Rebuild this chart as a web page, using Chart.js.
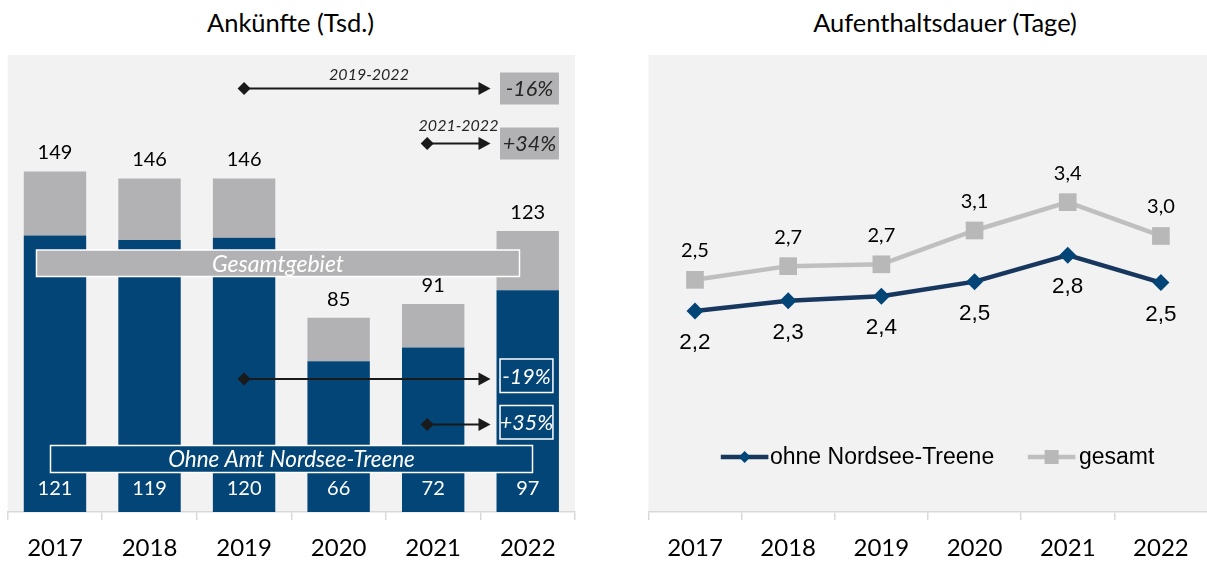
<!DOCTYPE html>
<html><head><meta charset="utf-8">
<script src="https://cdn.jsdelivr.net/npm/chart.js@4/dist/chart.umd.min.js"></script>
<style>
html,body{margin:0;padding:0;background:#fff;overflow:hidden;width:1207px;height:563px;}
#c1{position:absolute;left:0;top:0;}
#c2{position:absolute;left:600px;top:0;}
.title{position:absolute;top:7px;line-height:30px;font-family:Lato,sans-serif;font-size:25.5px;color:#000;transform:translateX(-50%);white-space:nowrap;}
</style></head><body>
<div class="title" style="left:290.5px">Ankünfte (Tsd.)</div>
<div class="title" style="left:945px">Aufenthaltsdauer (Tage)</div>
<canvas id="c1" width="600" height="563"></canvas>
<canvas id="c2" width="620" height="563"></canvas>
<script>
// ---- data ----
const years = ['2017','2018','2019','2020','2021','2022'];
const ankuenfteGesamt = [149,146,146,85,91,123];
const ankuenfteOhne = [121,119,120,66,72,97];
const dauerOhne = [2.20,2.31,2.36,2.52,2.81,2.51];
const dauerGesamt = [2.54,2.69,2.71,3.08,3.39,3.02];
const periodLabels = ['2019-2022','2021-2022'];
const changeGesamt = ['-16%','+34%'];
const changeOhne = ['-19%','+35%'];
const boxLabels = ['Gesamtgebiet','Ohne Amt Nordsee-Treene'];
const seriesNames = ['ohne Nordsee-Treene','gesamt'];

const BLUE = '#034577', GREY = '#B2B2B4', BG = '#F2F2F2', AXIS = '#D9D9D9';
const fmt = v => v.toFixed(1).replace('.', ',');

const bgPlugin = {
  id: 'bg',
  beforeDraw(chart) {
    const {ctx, chartArea: a} = chart;
    ctx.save(); ctx.fillStyle = BG;
    ctx.fillRect(a.left, a.top, a.right - a.left, a.bottom - a.top);
    ctx.restore();
  }
};

function xAxis() {
  return {
    offset: true,
    grid: {offset: true, drawOnChartArea: false, drawTicks: true, tickLength: 8, color: AXIS, lineWidth: 1.5},
    border: {display: true, color: AXIS, width: 1.5},
    ticks: {font: {family: 'Lato', size: 24}, color: '#000', padding: 13.5, maxRotation: 0},
    afterFit(s) { s.height = 51; }
  };
}

function diamondArrow(ctx, x1, x2, y) {
  ctx.save();
  ctx.strokeStyle = '#1a1a1a'; ctx.fillStyle = '#1a1a1a'; ctx.lineWidth = 1.8;
  ctx.beginPath(); ctx.moveTo(x1, y); ctx.lineTo(x2 - 8, y); ctx.stroke();
  ctx.beginPath(); ctx.moveTo(x1 - 6.5, y); ctx.lineTo(x1, y - 6.5); ctx.lineTo(x1 + 6.5, y); ctx.lineTo(x1, y + 6.5); ctx.closePath(); ctx.fill();
  ctx.beginPath(); ctx.moveTo(x2, y); ctx.lineTo(x2 - 12, y - 6.5); ctx.lineTo(x2 - 12, y + 6.5); ctx.closePath(); ctx.fill();
  ctx.restore();
}
function box(ctx, x1, y1, x2, y2, fill, stroke, text, color, size) {
  ctx.save();
  if (fill) { ctx.fillStyle = fill; ctx.fillRect(x1, y1, x2 - x1, y2 - y1); }
  if (stroke) { ctx.strokeStyle = stroke; ctx.lineWidth = 1.5; ctx.strokeRect(x1, y1, x2 - x1, y2 - y1); }
  ctx.fillStyle = color; ctx.font = 'italic ' + size + 'px Lato';
  ctx.textAlign = 'center'; ctx.textBaseline = 'middle';
  ctx.fillText(text, (x1 + x2) / 2, (y1 + y2) / 2 + 1);
  ctx.restore();
}

const barLabels = {
  id: 'barLabels',
  afterDatasetsDraw(chart) {
    const ctx = chart.ctx;
    const xs = chart.scales.x;
    const m0 = chart.getDatasetMeta(0), m1 = chart.getDatasetMeta(1);
    const last = m1.data[5];
    const bl = last.x - last.width / 2, br = last.x + last.width / 2;
    const tip = bl - 6;
    // annotations
    ctx.save();
    ctx.fillStyle = '#262626'; ctx.font = 'italic 16px Lato'; ctx.textAlign = 'center'; ctx.textBaseline = 'middle';
    ctx.fillText(periodLabels[0], 369, 74.5);
    ctx.fillText(periodLabels[1], 458.5, 126);
    ctx.restore();
    diamondArrow(ctx, xs.getPixelForValue(2), tip, 88.5);
    diamondArrow(ctx, xs.getPixelForValue(4) - 6, tip, 143.5);
    diamondArrow(ctx, xs.getPixelForValue(2), tip, 379);
    diamondArrow(ctx, xs.getPixelForValue(4) - 6, tip, 424.5);
    box(ctx, bl + 3.5, 72.5, br, 104.5, GREY, null, changeGesamt[0], '#262626', 21.5);
    box(ctx, bl + 3.5, 127.5, br, 159.5, GREY, null, changeGesamt[1], '#262626', 21.5);
    box(ctx, bl + 3.5, 359, br - 6, 392.5, null, '#fff', changeOhne[0], '#fff', 21.5);
    box(ctx, bl + 3.5, 405.5, br - 6, 439, null, '#fff', changeOhne[1], '#fff', 21.5);
    box(ctx, 36.5, 250, 519.5, 276.5, GREY, '#fff', boxLabels[0], '#fff', 23);
    box(ctx, 50.5, 445.5, 532.5, 472.5, BLUE, '#fff', boxLabels[1], '#fff', 22.5);
    // values
    ctx.save();
    ctx.font = '20px Lato'; ctx.textAlign = 'center'; ctx.textBaseline = 'middle';
    m1.data.forEach((el, i) => { ctx.fillStyle = '#000'; ctx.fillText(String(ankuenfteGesamt[i]), el.x, el.y - 18.5); });
    m0.data.forEach((el, i) => { ctx.fillStyle = '#fff'; ctx.fillText(String(ankuenfteOhne[i]), el.x, el.base - 23); });
    ctx.restore();
  }
};

new Chart(document.getElementById('c1'), {
  type: 'bar',
  data: {
    labels: years,
    datasets: [
      {data: ankuenfteOhne, backgroundColor: BLUE, borderWidth: 0},
      {data: ankuenfteGesamt.map((v, i) => v - ankuenfteOhne[i]), backgroundColor: GREY, borderWidth: 0}
    ]
  },
  options: {
    responsive: false, animation: false,
    layout: {padding: {left: 7.7, right: 25, top: 55, bottom: 0}},
    datasets: {bar: {barPercentage: 0.66, categoryPercentage: 1}},
    plugins: {legend: {display: false}, tooltip: {enabled: false}},
    scales: {
      x: Object.assign(xAxis(), {stacked: true}),
      y: {stacked: true, display: false, min: 0, max: 200}
    }
  },
  plugins: [bgPlugin, barLabels]
});

const lineLabels = {
  id: 'lineLabels',
  afterDatasetsDraw(chart) {
    const ctx = chart.ctx;
    ctx.save(); ctx.textAlign = 'center'; ctx.textBaseline = 'middle'; ctx.fillStyle = '#000';
    ctx.font = '20px Lato';
    chart.getDatasetMeta(1).data.forEach((el, i) => ctx.fillText(fmt(dauerGesamt[i]), el.x, el.y - 29));
    ctx.font = '22.5px "Liberation Sans"';
    chart.getDatasetMeta(0).data.forEach((el, i) => ctx.fillText(fmt(dauerOhne[i]), el.x, el.y + 32));
    // legend
    const y = 457;
    ctx.lineWidth = 4.5;
    ctx.strokeStyle = '#17375E';
    ctx.beginPath(); ctx.moveTo(120.8, y); ctx.lineTo(168.4, y); ctx.stroke();
    ctx.fillStyle = BLUE;
    ctx.beginPath(); ctx.moveTo(144.6 - 6, y); ctx.lineTo(144.6, y - 6); ctx.lineTo(144.6 + 6, y); ctx.lineTo(144.6, y + 6); ctx.closePath(); ctx.fill();
    ctx.strokeStyle = '#BFBFBF';
    ctx.beginPath(); ctx.moveTo(427.8, y); ctx.lineTo(475.4, y); ctx.stroke();
    ctx.fillStyle = '#B8B8B8';
    ctx.fillRect(451.6 - 7, y - 7, 14, 14);
    ctx.fillStyle = '#000'; ctx.textAlign = 'left'; ctx.font = '23px "Liberation Sans"';
    ctx.fillText(seriesNames[0], 170, y + 1);
    ctx.fillText(seriesNames[1], 479, y + 1);
    ctx.restore();
  }
};

new Chart(document.getElementById('c2'), {
  type: 'line',
  data: {
    labels: years,
    datasets: [
      {label: seriesNames[0], data: dauerOhne, borderColor: '#17375E', borderWidth: 4.5,
       pointStyle: 'rectRot', pointRadius: 8.5, pointBackgroundColor: BLUE, pointBorderColor: BLUE, pointBorderWidth: 0},
      {label: seriesNames[1], data: dauerGesamt, borderColor: '#BFBFBF', borderWidth: 4.5,
       pointStyle: 'rect', pointRadius: 12.5, pointBackgroundColor: '#B8B8B8', pointBorderColor: '#B8B8B8', pointBorderWidth: 0}
    ]
  },
  options: {
    responsive: false, animation: false,
    layout: {padding: {left: 48.4, right: 3.4, top: 55, bottom: 0}},
    plugins: {legend: {display: false}, tooltip: {enabled: false}},
    scales: {
      x: xAxis(),
      y: {display: false, min: 0, max: 5}
    }
  },
  plugins: [bgPlugin, lineLabels]
});
</script>
</body></html>
